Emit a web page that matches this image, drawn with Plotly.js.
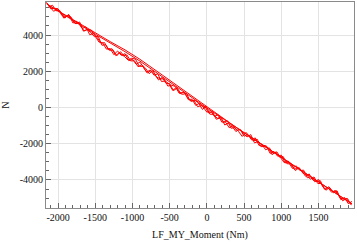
<!DOCTYPE html>
<html><head><meta charset="utf-8">
<script src="https://cdn.plot.ly/plotly-3.0.1.min.js"></script>
<style>html,body{margin:0;padding:0;background:#fff}#chart{width:357px;height:245px}</style>
</head><body><div id="chart"></div>
<script>
// noisy pass 1
const moment1 = [-2150,-2100,-2050,-2000,-1950,-1900,-1850,-1800,-1750,-1700,-1650,-1600,-1550,-1500,-1450,-1400,-1350,-1300,-1250,-1200,-1150,-1100,-1050,-1000,-950,-900,-850,-800,-750,-700,-650,-600,-550,-500,-450,-400,-350,-300,-250,-200,-150,-100,-50,0,50,100,150,200,250,300,350,400,450,500,550,600,650,700,750,800,850,900,950,1000,1050,1100,1150,1200,1250,1300,1350,1400,1450,1500,1550,1600,1650,1700,1750,1800,1850,1900,1950];
const force1 = [5765,5450,5476,5451,5087,5012,5088,4663,4759,4544,4220,4315,4261,3896,3612,3567,3223,3248,2914,3119,2875,2970,2586,2661,2387,2502,2188,1903,2039,1824,1520,1665,1331,1326,932,1067,793,828,434,459,115,240,26,-259,-174,-488,-403,-807,-802,-1116,-1001,-1255,-1230,-1584,-1499,-1783,-1678,-2092,-2077,-2121,-2536,-2420,-2685,-2629,-3054,-3038,-3363,-3217,-3482,-3456,-3881,-3815,-4100,-3974,-4319,-4563,-4418,-4712,-4607,-5091,-4966,-5310,-5185];
// noisy pass 2
const moment2 = [-2125,-2075,-2025,-1975,-1925,-1875,-1825,-1775,-1725,-1675,-1625,-1575,-1525,-1475,-1425,-1375,-1325,-1275,-1225,-1175,-1125,-1075,-1025,-975,-925,-875,-825,-775,-725,-675,-625,-575,-525,-475,-425,-375,-325,-275,-225,-175,-125,-75,-25,25,75,125,175,225,275,325,375,425,475,525,575,625,675,725,775,825,875,925,975,1025,1075,1125,1175,1225,1275,1325,1375,1425,1475,1525,1575,1625,1675,1725,1775,1825,1875,1925];
const force2 = [5547,5643,5338,5344,4939,5075,4990,4636,4641,4357,4452,4018,4083,3869,3554,3580,3195,3241,2866,3032,2847,2903,2568,2584,2249,2365,2170,1866,2041,1677,1582,1578,1183,1229,1164,800,725,781,366,402,47,103,48,-306,-231,-645,-590,-804,-729,-1143,-1108,-1322,-1597,-1371,-1596,-1850,-1745,-2159,-2154,-2218,-2603,-2457,-2742,-2706,-3101,-3115,-3420,-3314,-3489,-3793,-3668,-4002,-4087,-4041,-4486,-4410,-4675,-4589,-4884,-5148,-5023,-5307];
// noisy pass 3
const moment3 = [-2160,-2110,-2060,-2010,-1960,-1910,-1860,-1810,-1760,-1710,-1660,-1610,-1560,-1510,-1460,-1410,-1360,-1310,-1260,-1210,-1160,-1110,-1060,-1010,-960,-910,-860,-810,-760,-710,-660,-610,-560,-510,-460,-410,-360,-310,-260,-210,-160,-110,-60,-10,40,90,140,190,240,290,340,390,440,490,540,590,640,690,740,790,840,890,940,990,1040,1090,1140,1190,1240,1290,1340,1390,1440,1490,1540,1590,1640,1690,1740,1790,1840,1890,1940];
const force3 = [5810,5547,5312,5418,5233,4929,5144,4830,4615,4721,4216,4312,4137,3903,3928,3434,3469,3155,3170,2856,3081,2827,2622,2718,2673,2279,2264,1950,2075,1781,1856,1432,1467,1303,948,1104,779,865,550,336,401,237,-108,78,-367,-381,-596,-530,-965,-859,-1044,-1328,-1193,-1437,-1622,-1496,-1951,-1875,-2050,-2334,-2229,-2543,-2448,-2762,-3047,-2951,-3136,-3480,-3315,-3629,-3704,-3958,-3833,-4197,-4192,-4546,-4371,-4655,-4590,-4994,-5069,-5023,-5388];
// smooth return lines
const momentUp = [1950,1500,1000,500,300,0,-300,-600,-900,-1100,-1300,-1500,-1700,-1850,-2000,-2150];
const forceUpA = [-5325,-4114,-2769,-1394,-826,31,908,1795,2662,3180,3638,4116,4594,4958,5321,5705];
const forceUpB = [-5325,-4114,-2769,-1424,-866,-29,838,1715,2562,3080,3548,4046,4554,4938,5311,5705];

const xTickVals = [-2000,-1500,-1000,-500,0,500,1000,1500];
const xTickText = ['-2000','-1500','-1000','-500','0','500','1000','1500'];
const yTickVals = [-4000,-2000,0,2000,4000];
const yTickText = ['-4000','-2000','0','2000','4000'];

const red = '#ff0000';
const mk = (x, y) => ({x, y, type: 'scatter', mode: 'lines', line: {color: red, width: 1}, hoverinfo: 'skip', showlegend: false});
const data = [mk(moment1, force1), mk(moment2, force2), mk(moment3, force3), mk(momentUp, forceUpA), mk(momentUp, forceUpB)];

const font = {family: 'Liberation Serif, Times New Roman, serif', size: 10, color: '#111'};
const axisCommon = {
  showgrid: true, gridcolor: '#e3e3e3', gridwidth: 1,
  zeroline: false, showline: true, linecolor: '#8a8a8a', linewidth: 1, mirror: true,
  ticks: 'inside', ticklen: 5, tickcolor: '#666', tickwidth: 1,
  tickfont: font, tickmode: 'array'
};
const layout = {
  width: 357, height: 245,
  margin: {l: 46, r: 3, t: 2, b: 37},
  paper_bgcolor: '#fff', plot_bgcolor: '#fff',
  font: font,
  xaxis: Object.assign({}, axisCommon, {
    range: [-2162, 1977], tickvals: xTickVals, ticktext: xTickText,
    minor: {tickmode: 'linear', tick0: 0, dtick: 100, ticks: 'inside', ticklen: 3, tickcolor: '#666', showgrid: false},
    title: {text: 'LF_MY_Moment (Nm)', font: font, standoff: 8}
  }),
  yaxis: Object.assign({}, axisCommon, {
    range: [-5547, 5823], tickvals: yTickVals, ticktext: yTickText,
    minor: {tickmode: 'linear', tick0: 0, dtick: 500, ticks: 'inside', ticklen: 3, tickcolor: '#666', showgrid: false},
    title: {text: 'N', font: font, standoff: 8}
  })
};
Plotly.newPlot('chart', data, layout, {staticPlot: true, displayModeBar: false});
</script></body></html>
